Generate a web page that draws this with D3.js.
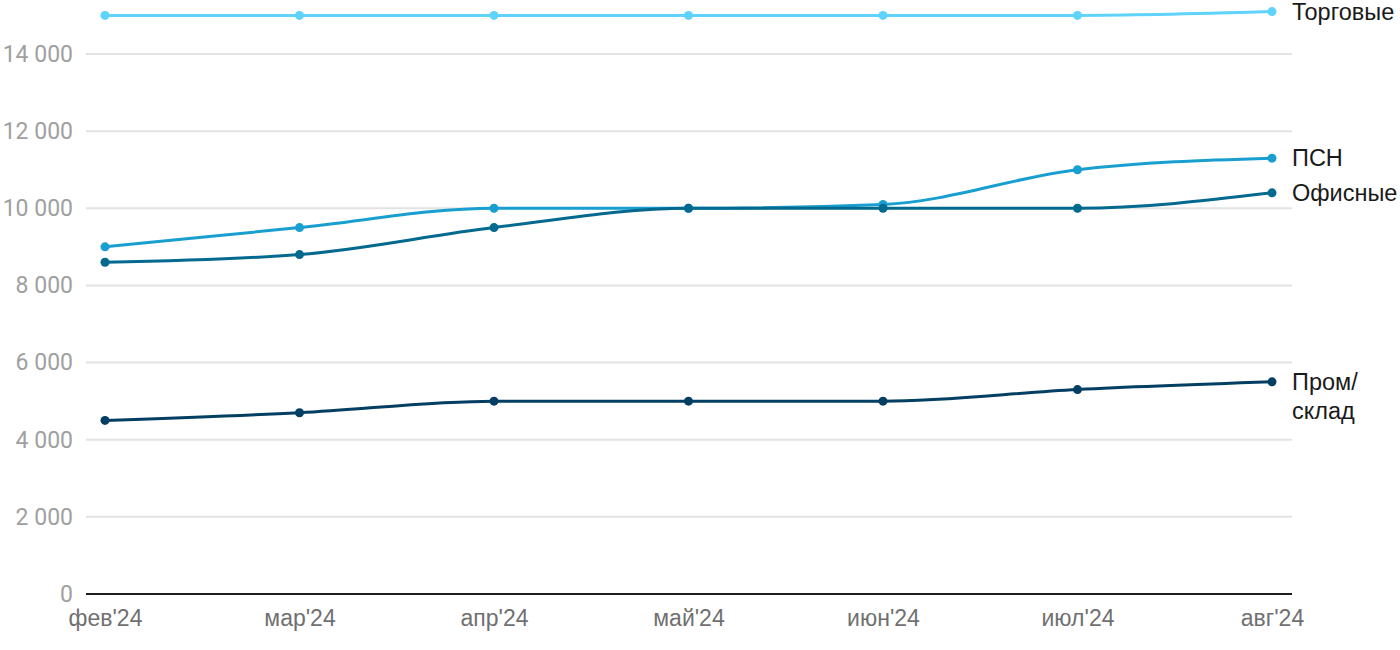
<!DOCTYPE html>
<html><head><meta charset="utf-8">
<script src="https://cdn.jsdelivr.net/npm/d3@7"></script>
<style>body{margin:0;background:#fff;font-family:"Liberation Sans",Arial,sans-serif}</style>
</head><body><svg id="c" width="1400" height="650"></svg>
<script>
const months = ["фев'24","мар'24","апр'24","май'24","июн'24","июл'24","авг'24"];
const yTicks = [0,2000,4000,6000,8000,10000,12000,14000];
const seriesNames = ["Торговые","ПСН","Офисные","Пром/склад"];
const torgovye = [15000,15000,15000,15000,15000,15000,15100];
const psn = [9000,9500,10000,10000,10100,11000,11300];
const ofisnye = [8600,8800,9500,10000,10000,10000,10400];
const promsklad = [4500,4700,5000,5000,5000,5300,5500];
const colors = ["#5fd3fc","#199fcf","#03698f","#033f63"];

const seriesData = [torgovye, psn, ofisnye, promsklad];
const svg = d3.select("#c");
const x = d3.scalePoint().domain(months).range([105,1272]);
const y = d3.scaleLinear().domain([0,14000]).range([594,54]);
const fmt = v => d3.format(",")(v).replace(/,/g," ");

svg.append("g").selectAll("line").data(yTicks.filter(d=>d>0)).join("line")
  .attr("x1",86).attr("x2",1292).attr("y1",d=>y(d)).attr("y2",d=>y(d))
  .attr("stroke","#e3e3e3").attr("stroke-width",2);
const yAxis = svg.append("g").attr("transform","translate(86,0)")
  .call(d3.axisLeft(y).tickValues(yTicks).tickFormat(fmt).tickSize(0).tickPadding(13));
yAxis.select(".domain").remove();
yAxis.selectAll("text").attr("fill","#a0a0a0").style("font-size","23px").style("font-family","Roboto");
svg.append("line").attr("x1",86).attr("x2",1292).attr("y1",y(0)).attr("y2",y(0))
  .attr("stroke","#1e1e1e").attr("stroke-width",2);
const xAxis = svg.append("g").attr("transform",`translate(0,${y(0)})`)
  .call(d3.axisBottom(x).tickSize(0).tickPadding(16));
xAxis.select(".domain").remove();
xAxis.selectAll("text").attr("fill","#707070").style("font-size","23px").style("font-family","Liberation Sans");

const line = d3.line().x((d,i)=>x(months[i])).y(d=>y(d)).curve(d3.curveMonotoneX);
seriesData.forEach((vals,k)=>{
  svg.append("path").attr("d",line(vals)).attr("fill","none")
    .attr("stroke",colors[k]).attr("stroke-width",3);
  svg.append("g").selectAll("circle").data(vals).join("circle")
    .attr("cx",(d,i)=>x(months[i])).attr("cy",d=>y(d)).attr("r",4.5).attr("fill",colors[k]);
});
seriesNames.forEach((name,k)=>{
  const vals = seriesData[k];
  const last = vals[vals.length-1];
  const t = svg.append("text").attr("x",1292).attr("fill","#1a1a1a")
    .style("font-size","23.5px").style("font-family","Liberation Sans");
  const parts = name==="Пром/склад" ? ["Пром/","склад"] : [name];
  parts.forEach((p,j)=>{
    t.append("tspan").attr("x",1292).attr("y",y(last)+8+j*29).text(p);
  });
});
</script></body></html>
